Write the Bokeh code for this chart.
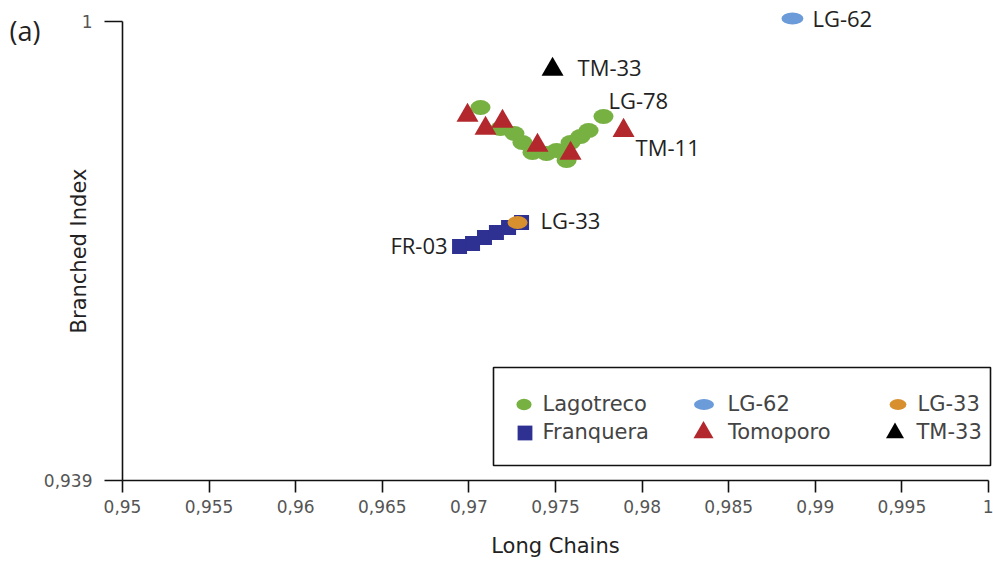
from bokeh.plotting import figure
from bokeh.models import (Range1d, FixedTicker, CustomJSTickFormatter, Label,
                          Legend, LegendItem, BoxAnnotation)
from bokeh.embed import file_html
from bokeh.resources import INLINE

# ---------------- data ----------------
lago_x = [0.97067, 0.97182, 0.97263, 0.97309, 0.97367, 0.97448,
          0.97506, 0.97564, 0.97587, 0.97644, 0.97691, 0.97777]
lago_y = [0.98857, 0.98578, 0.98512, 0.98392, 0.98259, 0.98246,
          0.98286, 0.98153, 0.98392, 0.98472, 0.98551, 0.98737]

franq_x = [0.96946, 0.97021, 0.97090, 0.97159, 0.97229, 0.97304]
franq_y = [0.97010, 0.97050, 0.97129, 0.97196, 0.97262, 0.97329]

tomo_x = [0.96992, 0.97096, 0.97194, 0.97396, 0.97587, 0.97893]
tomo_y = [0.98751, 0.98578, 0.98671, 0.98352, 0.98246, 0.98551]

lg62_x = [0.98868]
lg62_y = [1.0004]
lg33_x = [0.97281]
lg33_y = [0.97329]
tm33_x = [0.97483]
tm33_y = [0.99362]

x_ticks = [0.95, 0.955, 0.96, 0.965, 0.97, 0.975, 0.98, 0.985, 0.99, 0.995, 1.0]
x_tick_labels = ["0,95", "0,955", "0,96", "0,965", "0,97", "0,975", "0,98",
                 "0,985", "0,99", "0,995", "1"]
y_ticks = [0.939, 1.0]
y_tick_labels = ["0,939", "1"]

# ---------------- layout / styles ----------------
W, H_CANVAS = 993, 562
AX_LEFT, AX_RIGHT, AX_TOP, AX_BOTTOM = 122, 988, 21, 480   # pixel box of the axes
X0, X1, Y0, Y1 = 0.95, 1.0, 0.939, 1.0
kx = (X1 - X0) / (AX_RIGHT - AX_LEFT)
ky = (Y1 - Y0) / (AX_BOTTOM - AX_TOP)

GREEN = "#77b142"
NAVY = "#2e3192"
RED = "#b2282c"
LBLUE = "#6b9bd9"
ORANGE = "#d8902f"
BLACK = "#000000"

p = figure(width=W, height=H_CANVAS,
           x_range=Range1d(X0 - AX_LEFT * kx, X1 + (W - AX_RIGHT) * kx),
           y_range=Range1d(Y0 - (H_CANVAS - AX_BOTTOM) * ky, Y1 + AX_TOP * ky),
           output_backend="svg", toolbar_location=None,
           min_border=0, min_border_left=0, min_border_right=0,
           min_border_top=0, min_border_bottom=0)
p.grid.visible = False
p.outline_line_color = None

# axes (fixed at the data origin of the chart)
tick_code = """
const i = tv.findIndex(t => Math.abs(t - tick) < 1e-9);
return i >= 0 ? tl[i] : '';
"""
xa = p.xaxis[0]
ya = p.yaxis[0]
xa.fixed_location = Y0
xa.bounds = (X0, X1)
ya.fixed_location = X0
ya.bounds = (Y0, Y1)
xa.ticker = FixedTicker(ticks=x_ticks)
xa.formatter = CustomJSTickFormatter(args=dict(tv=x_ticks, tl=x_tick_labels), code=tick_code)
ya.ticker = FixedTicker(ticks=y_ticks)
ya.formatter = CustomJSTickFormatter(args=dict(tv=y_ticks, tl=y_tick_labels), code=tick_code)

for ax in (xa, ya):
    ax.axis_line_color = "#111111"
    ax.axis_line_width = 1.6
    ax.major_tick_line_color = "#111111"
    ax.major_tick_line_width = 1.6
    ax.major_tick_in = 0
    ax.minor_tick_line_color = None
    ax.major_label_text_font = "DejaVu Sans"
    ax.major_label_text_font_size = "17px"
    ax.major_label_text_color = "#555555"
    ax.axis_label_text_font = "DejaVu Sans"
    ax.axis_label_text_font_size = "21px"
    ax.axis_label_text_font_style = "normal"
    ax.axis_label_text_color = "#222222"

xa.major_tick_out = 12
xa.major_label_standoff = 7
xa.axis_label = "Long Chains"
xa.axis_label_standoff = 18

ya.major_tick_out = 18
ya.major_label_standoff = 12
ya.axis_label = "Branched Index"
ya.axis_label_standoff = -50

# glyphs
r_lago = p.ellipse(x=lago_x, y=lago_y, width=20, height=15,
                   width_units="screen", height_units="screen",
                   fill_color=GREEN, line_color=None)
r_tomo = p.scatter(x=tomo_x, y=tomo_y, marker="triangle", size=22,
                   fill_color=RED, line_color=None)
r_franq = p.scatter(x=franq_x, y=franq_y, marker="square", size=15,
                    fill_color=NAVY, line_color=None)
r_lg33 = p.ellipse(x=lg33_x, y=lg33_y, width=20, height=13,
                   width_units="screen", height_units="screen",
                   fill_color=ORANGE, line_color=None)
r_tm33 = p.scatter(x=tm33_x, y=tm33_y, marker="triangle", size=22,
                   fill_color=BLACK, line_color=None)
r_lg62 = p.ellipse(x=lg62_x, y=lg62_y, width=22, height=12,
                   width_units="screen", height_units="screen",
                   fill_color=LBLUE, line_color=None)

# point labels
def point_label(text, x, y, dx, dy, align="left"):
    p.add_layout(Label(x=x, y=y, x_offset=dx, y_offset=dy, text=text,
                       text_font="Open Sans", text_font_size="22px",
                       text_color="#222222", text_baseline="middle",
                       text_align=align))

point_label("LG-62", lg62_x[0], lg62_y[0], 20, 0)
point_label("TM-33", tm33_x[0], tm33_y[0], 25, 3)
point_label("LG-78", lago_x[-1], lago_y[-1], 5, 17)
point_label("TM-11", tomo_x[-1], tomo_y[-1], 12, -16)
point_label("LG-33", lg33_x[0], lg33_y[0], 23, 2)
point_label("FR-03", franq_x[0], franq_y[0], -12, 1, align="right")

# panel label
p.add_layout(Label(x=9, y=H_CANVAS - 30, x_units="screen", y_units="screen", text="(a)",
                   text_font="Open Sans", text_font_size="27px",
                   text_color="#222222", text_baseline="middle"))

# legend box
p.add_layout(BoxAnnotation(left=X0 + (493 - AX_LEFT) * kx, right=X1 + 2 * kx,
                           bottom=Y1 - (465 - AX_TOP) * ky, top=Y1 - (367 - AX_TOP) * ky,
                           fill_color="white", fill_alpha=1.0,
                           line_color="#111111", line_alpha=1.0, line_width=1.6))

def legend_entry(label, renderer, cx, cy, gw, gh, label_x):
    lx = cx - gw / 2
    ly = (H_CANVAS - cy) - gh / 2
    leg = Legend(items=[LegendItem(label=label, renderers=[renderer])],
                 location=(lx, ly), glyph_width=gw, glyph_height=gh,
                 label_standoff=int(round(label_x - (cx + gw / 2))),
                 padding=0, margin=0, spacing=0,
                 border_line_color=None, background_fill_alpha=0,
                 label_text_font="DejaVu Sans", label_text_font_size="21px",
                 label_text_color="#444444", label_height=10)
    p.add_layout(leg, "center")

legend_entry("Lagotreco", r_lago, 523, 404, 19, 30, 542)
legend_entry("Franquera", r_franq, 524, 432, 37, 37, 542)
legend_entry("LG-62", r_lg62, 703, 404, 25, 30, 728)
legend_entry("Tomoporo", r_tomo, 703, 432, 50, 50, 727)
legend_entry("LG-33", r_lg33, 897, 404, 21, 30, 917)
legend_entry("TM-33", r_tm33, 894, 432, 45, 45, 912)

open("out.html", "w").write(file_html(p, INLINE))
